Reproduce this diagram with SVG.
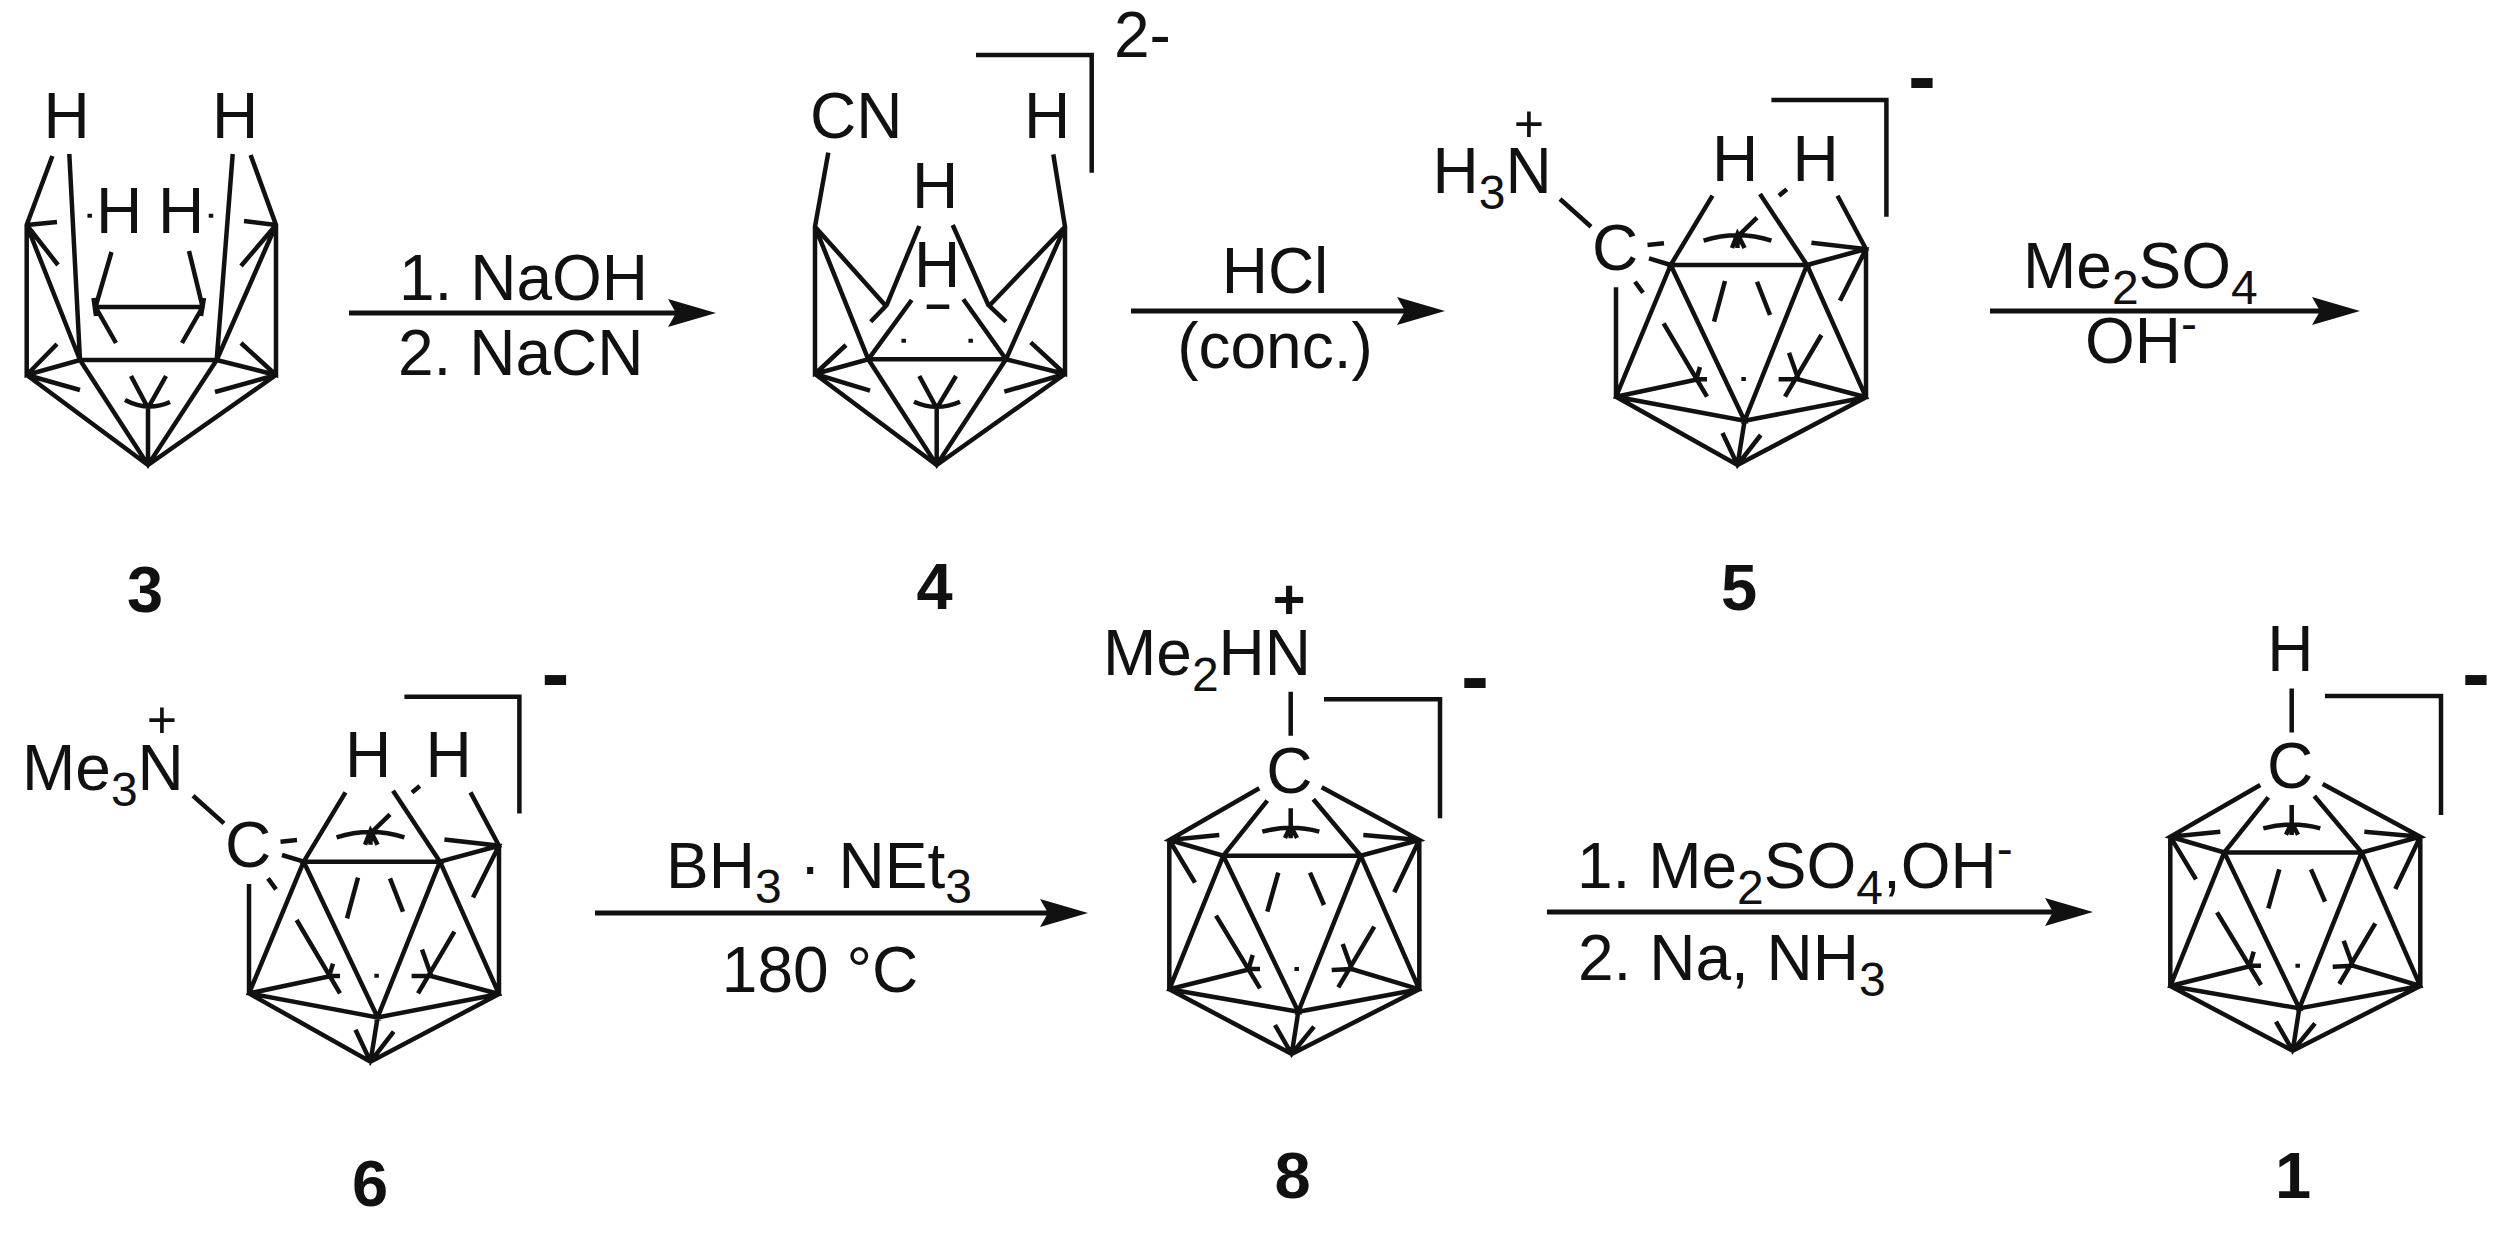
<svg xmlns="http://www.w3.org/2000/svg" width="2508" height="1240" viewBox="0 0 2508 1240">
<style>
text{font-family:"Liberation Sans",Arial,sans-serif;font-size:64px;fill:#111}
.m{text-anchor:middle}
.s{font-size:48px}
.p{font-size:52px;text-anchor:middle}
.pb{font-size:56px;font-weight:bold;text-anchor:middle}
.c{font-size:84px;font-weight:bold;text-anchor:middle}
.n{font-size:65px;font-weight:bold;text-anchor:middle}
.b{fill:none;stroke:#111;stroke-width:4.5;stroke-linejoin:miter;stroke-miterlimit:3}
.a{fill:none;stroke:#111;stroke-width:5}
</style>
<defs>
<marker id="head" markerUnits="userSpaceOnUse" markerWidth="60" markerHeight="40" refX="8" refY="20" orient="auto" viewBox="0 0 60 40">
<path d="M0,6L48,20L0,34L8,20Z" fill="#111"/>
</marker>
<path id="cageA" class="b" d="M1712.5,195.7L1670.7,265L1807,265L1760,194M1786.8,189.3L1779,195.7M1837.5,195.7L1866,249L1807,265M1811.4,242.7L1866,249L1840,300.7M1866,249V397.3M1647.5,245L1664,243.3M1649,258.3L1670.7,265M1635,281.7L1643,292.7M1616,287.3V396.7M1670.7,265L1616,396.7L1744.6,420.7L1670.7,265M1807,265L1744.6,420.7L1866,397.3L1807,265M1616,396.7L1737.5,465L1866,397.3M1744.6,420.7L1737.5,465M1725,281L1714,321.7M1757,281.7L1770,315M1663.6,323.3L1707,396.7M1616,396.7L1698,379.3L1707,379.3M1700,367L1696,380M1821.4,335L1785,396.7M1789,352.7L1798,378.3M1778.6,379.3L1798,379.3L1866,397.3M1757,217.7L1737.5,236.7V248M1703.6,240.7Q1737.5,230 1771.4,240.7M1732,248L1737.5,234L1744.6,248M1722.5,433L1737.5,465L1760.7,435M1743.6,377V381M1560,199L1591,226.7M1771.4,100H1886.4V216.7"/>
<path id="cageB" class="b" d="M1259.3,788.3L1169.3,840L1223.3,855.7L1360.7,855.7L1419.3,840L1321.7,787.3M1267.3,800.7L1223.3,855.7M1313.3,799.3L1360.7,855.7M1169.3,840V989.3M1419.3,840V989.3M1223.3,855.7L1169.3,989.3L1298.3,1011.7L1223.3,855.7M1360.7,855.7L1298.3,1011.7L1419.3,989.3L1360.7,855.7M1169.3,989.3L1291.7,1054L1419.3,989.3M1298.3,1011.7L1291.7,1054M1169.3,840L1219.3,835M1169.3,840L1195,882.7M1419.3,840L1363.3,835M1419.3,840L1394.3,892.3M1290.7,808.3V838.3M1262.3,831.7Q1290.7,824 1319.3,831.7M1285,838L1290.7,826L1297,838M1278.3,872.7L1267.3,911.7M1310,872.7L1324,905M1216,915.7L1260,988.3M1169.3,989.3L1250.7,969L1260,969M1252.7,955L1248.3,970M1374.3,926.7L1338.3,987.3M1342.7,944L1351.7,969M1331.7,970L1351.7,969L1419.3,989.3M1275,1025L1291.7,1054L1314,1026.7M1296.7,967V971M1290.7,691.7V735.7M1324,699.3H1440V818.3"/>
</defs>
<rect width="2508" height="1240" fill="#fff"/>
<g id="connectors">
<line class="a" x1="349" y1="313" x2="676" y2="313" marker-end="url(#head)"/>
<line class="a" x1="1131" y1="311" x2="1405" y2="311" marker-end="url(#head)"/>
<line class="a" x1="1990" y1="311" x2="2320" y2="311" marker-end="url(#head)"/>
<line class="a" x1="595" y1="913" x2="1048" y2="913" marker-end="url(#head)"/>
<line class="a" x1="1547" y1="912" x2="2053" y2="912" marker-end="url(#head)"/>
</g>
<g id="node-3">
<path class="b" d="M52.4,156L26.7,225V375L80,360L216.7,360L276,375V225L250.6,155M69.3,154L80,360M232.7,154L216.7,360M26.7,225L80,360M276,225L216.7,360M26.7,375L148,465L276,375M80,360L148,465L216.7,360M148,465V408M131,376L148,408L166,376M125,400Q148,412 170,402M26.7,225L57,222M26.7,225L58,265M276,225L244,221M276,225L241,266M26.7,375L57,344M26.7,375L80,390M276,375L241,343M276,375L215,392M111.5,252L95.5,307L116,343M189,251L202.6,307L182,343M95.5,307H202.6M93.5,298L96,316M204,298L201,316M89.7,213.7V217.7M211,213.7V217.7"/>
<text class="m" x="66.5" y="138">H</text><text class="m" x="235" y="138">H</text>
<text class="m" x="119" y="233">H</text><text class="m" x="181" y="233">H</text>
</g>
<g id="node-4">
<path class="b" d="M828.3,152.7L815,226.7V374L868.3,359.3L1006,359.3L1065,374V226.7L1053.3,154.3M815,226.7L868.3,359.3M1065,226.7L1006,359.3M815,226.7L885,305M919.3,226L886.7,305L870.7,321.7M1065,226.7L990,305M952.7,225L988.3,305L1006,321.7M911.7,300L868.3,359.3M963.3,299.3L1006,359.3M926.7,306.7H949.3M903.7,338.7V342.7M970.7,338.7V342.7M815,374L846,345M815,374L870,390.7M1065,374L1030.7,342.3M1065,374L1004.3,391.7M815,374L936.7,465L1065,374M868.3,359.3L936.7,465L1006,359.3M936.7,465V408.3M919.3,376L936.7,408.3L956,376M914,401.7Q936.7,412 960,401.7M976,55H1091.7V172.7"/>
<text x="810" y="138">CN</text><text class="m" x="1047" y="138">H</text>
<text class="m" x="935" y="208">H</text><text class="m" x="937" y="286.7">H</text>
<text x="1114" y="56.7">2-</text>
</g>
<g id="node-5">
<use href="#cageA"/>
<text x="1432.5" y="193">H<tspan class="s" dy="15.5">3</tspan><tspan dy="-15.5">N</tspan></text>
<text class="p" x="1529" y="141.7">+</text>
<text class="m" x="1615" y="270">C</text>
<text class="m" x="1735" y="180.7">H</text><text class="m" x="1815.5" y="180.7">H</text>
<text class="c" x="1922" y="105">-</text>
</g>
<g id="node-6">
<use href="#cageA" transform="translate(-1367,596.7)"/>
<text x="22" y="790">Me<tspan class="s" dy="15.5">3</tspan><tspan dy="-15.5">N</tspan></text>
<text class="p" x="162" y="737.7">+</text>
<text class="m" x="248" y="866.7">C</text>
<text class="m" x="368" y="777.4">H</text><text class="m" x="448.5" y="777.4">H</text>
<text class="c" x="555.5" y="702">-</text>
</g>
<g id="node-8">
<use href="#cageB"/>
<text x="1103" y="675">Me<tspan class="s" dy="15.5">2</tspan><tspan dy="-15.5">HN</tspan></text>
<text class="pb" x="1289" y="618">+</text>
<text class="m" x="1289.3" y="792.7">C</text>
<text class="c" x="1475" y="705">-</text>
</g>
<g id="node-1">
<use href="#cageB" transform="translate(1001,-3.3)"/>
<text class="m" x="2290.3" y="671">H</text>
<text class="m" x="2290" y="788.3">C</text>
<text class="c" x="2476" y="702">-</text>
</g>
<g id="reagents">
<text x="399" y="300">1. NaOH</text>
<text x="398" y="375">2. NaCN</text>
<text class="m" x="1275" y="293.3">HCl</text>
<text class="m" x="1275" y="368">(conc.)</text>
<text x="2023" y="288.3">Me<tspan class="s" dy="15.5">2</tspan><tspan dy="-15.5">SO</tspan><tspan class="s" dy="15.5">4</tspan></text>
<text x="2085" y="363.3">OH<tspan class="s" dy="-23">-</tspan></text>
<text x="666" y="888.3">BH<tspan class="s" dy="15">3</tspan><tspan dy="-15"> · NEt</tspan><tspan class="s" dy="15">3</tspan></text>
<text class="m" x="820" y="991.7">180 °C</text>
<text x="1577" y="888.3">1. Me<tspan class="s" dy="15.5">2</tspan><tspan dy="-15.5">SO</tspan><tspan class="s" dy="15.5">4</tspan><tspan dy="-15.5">,OH</tspan><tspan class="s" dy="-23">-</tspan></text>
<text x="1578" y="980">2. Na, NH<tspan class="s" dy="15.5">3</tspan></text>
</g>
<g id="labels">
<text class="n" x="145" y="612">3</text>
<text class="n" x="934.5" y="609">4</text>
<text class="n" x="1739" y="610">5</text>
<text class="n" x="370" y="1206">6</text>
<text class="n" x="1292.5" y="1198">8</text>
<text class="n" x="2293" y="1198">1</text>
</g>
</svg>
